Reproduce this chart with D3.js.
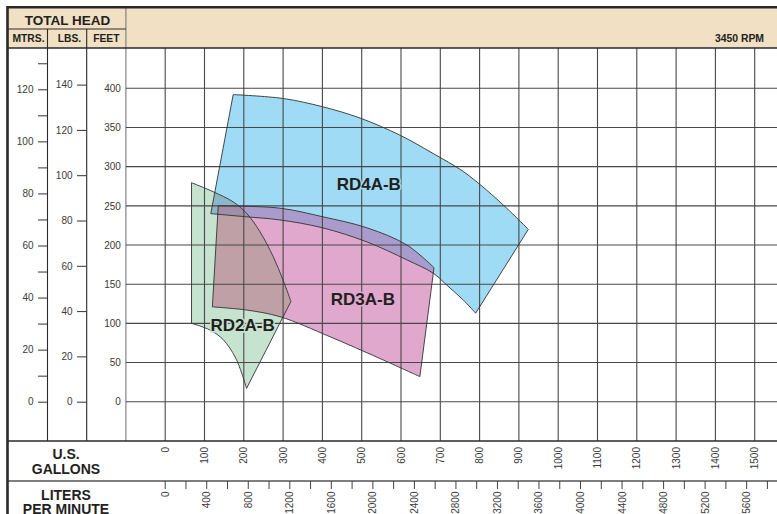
<!DOCTYPE html>
<html><head><meta charset="utf-8">
<script src="https://cdn.jsdelivr.net/npm/d3@7"></script>
<style>
html,body{margin:0;padding:0;background:#fff;}
svg{display:block;font-family:"Liberation Sans",Arial,Helvetica,sans-serif;}
</style></head>
<body><div id="chart"></div>
<script>
// ---- data ----
const gallonTicks = [0,100,200,300,400,500,600,700,800,900,1000,1100,1200,1300,1400,1500];
const literTicks = d3.range(0, 5801, 200);
const literLabels = [0,400,800,1200,1600,2000,2400,2800,3200,3600,4000,4400,4800,5200,5600];
const feetTicks = [0,50,100,150,200,250,300,350,400];
const psiTicks = [0,20,40,60,80,100,120,140];
const metreTicks = [0,10,20,30,40,50,60,70,80,90,100,110,120,130];
const metreLabels = [0,20,40,60,80,100,120];

// pump regions: [gallons, feet]
const rd4Top    = [[173,392],[300,387],[400,376.5],[496,362],[598,340],[681,317],[758,294],[818,270],[869,247],[924,220]];
const rd4Bottom = [[790,113],[758,130],[716,149],[682,164],[615,181],[513,204],[400,222],[292,232],[207,236],[116,240]];
const rd3Top    = [[135,250],[292,247],[401,236],[513,222],[615,200],[684,171]];
const rd3Bottom = [[648,32],[547,55],[419,83],[292,108.5],[207,117],[120,121]];
const rd2Top    = [[67,279.5],[122,268],[173,255],[207,240.5],[241,217],[275,185],[300,155],[320,128]];
const rd2Bottom = [[207,17],[195,36],[178,57],[148,79],[114,91.5],[67,100]];
const labels = [
  {name:"RD4A-B", g:518, f:270, fill:"#a0dbf5"},
  {name:"RD3A-B", g:503, f:123, fill:"#e0a8cc"},
  {name:"RD2A-B", g:197, f:90,  fill:"#c6e3cf"}
];

// ---- layout ----
const W=777, H=514;
const svg = d3.select("#chart").append("svg").attr("width",W).attr("height",H);
const x = d3.scaleLinear().domain([0,1500]).range([165.2,754.7]);
const yFt = d3.scaleLinear().domain([0,400]).range([401.7,88.3]);
const yM = d3.scaleLinear().domain([0,120]).range([401.7,89.3]);
const yPsi = d3.scaleLinear().domain([0,140]).range([401.7,84.6]);
const xL = d3.scaleLinear().domain([0,1500*3.785]).range(x.range());

const gridCol = "#484848";
const txtCol = "#3a3a3a";
const dark = "#231f20";

svg.append("rect").attr("width",W).attr("height",H).attr("fill","#fff");
// header
svg.append("rect").attr("x",8).attr("y",8).attr("width",W-8).attr("height",40).attr("fill","#f1e0c4");

// shape paths
const crv = d3.line().x(d=>x(d[0])).y(d=>yFt(d[1])).curve(d3.curveCatmullRom.alpha(0.5));
function shapePath(a,b){
  const p1 = crv(a), p2 = crv(b);
  return p1 + "L" + p2.slice(1) + "Z";
}
const pBlue = shapePath(rd4Top, rd4Bottom);
const pPink = shapePath(rd3Top, rd3Bottom);
const pGreen = shapePath(rd2Top, rd2Bottom);

const defs = svg.append("defs");
defs.append("clipPath").attr("id","cBlue").append("path").attr("d",pBlue);
defs.append("clipPath").attr("id","cPink").append("path").attr("d",pPink);

svg.append("path").attr("d",pBlue).attr("fill","#a0dbf5");
svg.append("path").attr("d",pPink).attr("fill","#e0a8cc");
svg.append("path").attr("d",pGreen).attr("fill","#c6e3cf");
svg.append("g").attr("clip-path","url(#cBlue)").append("path").attr("d",pPink).attr("fill","#a99bcc");
svg.append("g").attr("clip-path","url(#cPink)").append("path").attr("d",pGreen).attr("fill","#c0a0a7");
svg.append("g").attr("clip-path","url(#cBlue)").append("path").attr("d",pGreen).attr("fill","#8db7c7");
svg.append("g").attr("clip-path","url(#cBlue)").append("g").attr("clip-path","url(#cPink)")
  .append("path").attr("d",pGreen).attr("fill","#a08fa8");

// grid
const grid = svg.append("g").attr("stroke",gridCol).attr("stroke-width",1.1).attr("fill","none");
const vGal = [-100].concat(gallonTicks);
grid.selectAll(".v").data(vGal).enter().append("line")
  .attr("x1",d=>x(d)).attr("x2",d=>x(d)).attr("y1",d=>d<0?8:48).attr("y2",441)
  .attr("stroke",d=>d<0?"#7a7a7a":gridCol);
grid.selectAll(".h").data(feetTicks).enter().append("line")
  .attr("x1",x(-100)).attr("x2",W).attr("y1",d=>yFt(d)).attr("y2",d=>yFt(d));
// column separators
grid.append("line").attr("x1",47.5).attr("x2",47.5).attr("y1",29).attr("y2",441).attr("stroke","#2a2a2a");
grid.append("line").attr("x1",86.7).attr("x2",86.7).attr("y1",29).attr("y2",441).attr("stroke","#2a2a2a");
grid.append("line").attr("x1",8).attr("x2",x(-100)).attr("y1",29).attr("y2",29).attr("stroke","#2a2a2a");
grid.append("line").attr("x1",8).attr("x2",W).attr("y1",48).attr("y2",48).attr("stroke","#2a2a2a").attr("stroke-width",1.3);
grid.append("line").attr("x1",8).attr("x2",W).attr("y1",441).attr("y2",441).attr("stroke","#2a2a2a").attr("stroke-width",1.3);
grid.append("line").attr("x1",8).attr("x2",W).attr("y1",481).attr("y2",481).attr("stroke","#555").attr("stroke-width",1.3);

// outlines
const outl = svg.append("g").attr("fill","none").attr("stroke","#333").attr("stroke-width",0.9).attr("stroke-linejoin","round");
[pBlue,pPink,pGreen].forEach(p=>outl.append("path").attr("d",p));

// region labels
svg.append("g").selectAll("text").data(labels).enter().append("text")
  .attr("x",d=>x(d.g)).attr("y",d=>yFt(d.f)).attr("text-anchor","middle")
  .attr("font-size",17).attr("font-weight","bold").attr("fill",dark)
  .attr("stroke",d=>d.fill).attr("stroke-width",3).attr("paint-order","stroke")
  .text(d=>d.name);

// left axes
function styleAxis(g){
  g.select(".domain").remove();
  g.attr("font-family",null).attr("font-size",null);
  g.selectAll("text").attr("font-size",10).attr("fill",txtCol).attr("font-family","Liberation Sans, Arial, sans-serif");
  g.selectAll("line").attr("stroke","#333");
}
svg.append("g").attr("transform","translate(47.5,0)")
  .call(d3.axisLeft(yM).tickValues(metreTicks).tickSize(9.5).tickPadding(4.5)
    .tickFormat(d=>metreLabels.includes(d)?d:""))
  .call(styleAxis);
svg.append("g").attr("transform","translate(86.7,0)")
  .call(d3.axisLeft(yPsi).tickValues(psiTicks).tickSize(9.7).tickPadding(4.5))
  .call(styleAxis);
svg.append("g").attr("transform","translate("+x(-100)+",0)")
  .call(d3.axisLeft(yFt).tickValues(feetTicks).tickSize(0).tickPadding(5))
  .call(styleAxis);

// gallons labels
svg.append("g").selectAll("text").data(gallonTicks).enter().append("text")
  .attr("transform",d=>"translate("+x(d)+",447) rotate(-90)")
  .attr("text-anchor","end").attr("dy","0.35em")
  .attr("font-size",10).attr("fill",txtCol).text(d=>d);
// liters ticks & labels
svg.append("g").selectAll("line").data(literTicks).enter().append("line")
  .attr("x1",d=>xL(d)).attr("x2",d=>xL(d)).attr("y1",481).attr("y2",489)
  .attr("stroke","#444").attr("stroke-width",1);
svg.append("g").selectAll("text").data(literLabels).enter().append("text")
  .attr("transform",d=>"translate("+xL(d)+",491.5) rotate(-90)")
  .attr("text-anchor","end").attr("dy","0.35em")
  .attr("font-size",10).attr("fill",txtCol).text(d=>d);

// titles
const tt = svg.append("g").attr("font-weight","bold").attr("fill",dark).attr("text-anchor","middle");
tt.append("text").attr("x",67.5).attr("y",25).attr("font-size",13.5).text("TOTAL HEAD");
tt.append("text").attr("x",28.5).attr("y",41.7).attr("font-size",10.3).text("MTRS.");
tt.append("text").attr("x",69.5).attr("y",41.7).attr("font-size",10.3).text("LBS.");
tt.append("text").attr("x",106.3).attr("y",41.7).attr("font-size",10.3).text("FEET");
tt.append("text").attr("x",764).attr("y",41.7).attr("font-size",10.4).attr("text-anchor","end").text("3450 RPM");
tt.append("text").attr("x",66).attr("y",459).attr("font-size",14).text("U.S.");
tt.append("text").attr("x",66).attr("y",473.5).attr("font-size",14).text("GALLONS");
tt.append("text").attr("x",66).attr("y",499.5).attr("font-size",14).text("LITERS");
tt.append("text").attr("x",66).attr("y",513.5).attr("font-size",14).text("PER MINUTE");

// thick borders
svg.append("path").attr("d","M7.5,"+H+"V7.2H"+W).attr("fill","none").attr("stroke","#2a2a2a").attr("stroke-width",2.6);
</script></body></html>
